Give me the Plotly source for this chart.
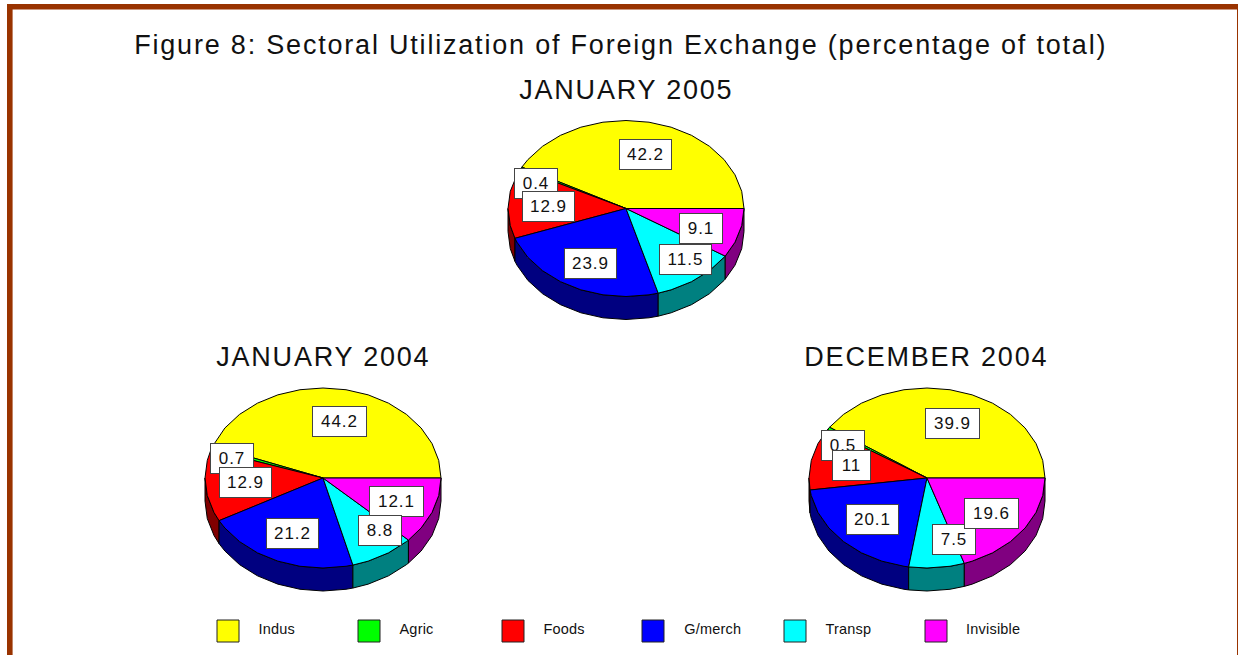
import math
import plotly.graph_objects as go

# ---- data ----
SECTORS = ["Indus", "Agric", "Foods", "G/merch", "Transp", "Invisible"]
JAN_2005 = [42.2, 0.4, 12.9, 23.9, 11.5, 9.1]
JAN_2004 = [44.2, 0.7, 12.9, 21.2, 8.8, 12.1]
DEC_2004 = [39.9, 0.5, 11, 20.1, 7.5, 19.6]
TITLE = "Figure 8: Sectoral Utilization of Foreign Exchange (percentage of total)"
PANEL_TITLES = ["JANUARY 2005", "JANUARY 2004", "DECEMBER 2004"]

# ---- styles / layout ----
TOP = ["#ffff00", "#00ff00", "#ff0000", "#0000ff", "#00ffff", "#ff00ff"]
SIDE = ["#808000", "#008000", "#800000", "#000080", "#008080", "#800080"]
BROWN = "#993300"
FONT = "Liberation Sans, Arial, sans-serif"
RX, DEPTH = 118, 23
PANELS = [
    dict(vals=JAN_2005, cx=626, cy=208.5, ry=88, title=(626, 90),
         boxes=[(645.8, 154.3, 53), (535.7, 183, 44), (548.7, 206.7, 53),
                (590, 263.3, 53), (685, 259, 53), (701.3, 228.7, 44)],
         order=[0, 1, 2, 3, 5, 4]),
    dict(vals=JAN_2004, cx=323, cy=478, ry=90, title=(323, 357),
         boxes=[(339.2, 421, 55), (231.7, 458.3, 44), (245.7, 482.5, 53),
                (292, 533.3, 53), (379.7, 530.8, 44), (396.7, 501.3, 55)],
         order=[0, 1, 2, 3, 5, 4]),
    dict(vals=DEC_2004, cx=927, cy=478, ry=90, title=(926, 357),
         boxes=[(952.2, 423.7, 55), (842.5, 445, 44), (851.3, 465, 39),
                (872.5, 519.3, 53), (953.7, 539, 44), (991.7, 513, 55)],
         order=[0, 1, 2, 3, 4, 5]),
]
LEGEND_X = [228, 369, 513, 653, 795, 936]
LEGEND_TEXT_X = [257, 398, 542, 683, 824, 965]
LEGEND_Y = 631


def arc(a, b, step=11.25):
    pts = [a]
    k = math.floor(a / step) + 1
    while k * step < b - 0.5:
        pts.append(k * step)
        k += 1
    pts.append(b)
    return pts


fig = go.Figure()
annotations = []


def label(x, y, text, size, **kw):
    annotations.append(dict(x=x, y=y, xref="x", yref="y", text=text, showarrow=False,
                            font=dict(family=FONT, size=size, color="#111111"), **kw))


for p in PANELS:
    total = sum(p["vals"])
    cx, cy, ry = p["cx"], p["cy"], p["ry"]
    px = lambda d: cx + RX * math.cos(math.radians(d))
    py = lambda d: cy - ry * math.sin(math.radians(d))

    spans, start = [], 0.0
    for v in p["vals"]:
        end = start + v / total * 360
        spans.append((start, end))
        start = end

    # outer walls (only the part of each slice on the near side)
    for i, (a, b) in enumerate(spans):
        lo, hi = max(a, 180), min(b, 360)
        if hi <= lo:
            continue
        ang = arc(lo, hi)
        xs = [px(d) for d in ang] + [px(d) for d in reversed(ang)] + [px(ang[0])]
        ys = [py(d) for d in ang] + [py(d) + DEPTH for d in reversed(ang)] + [py(ang[0])]
        fig.add_trace(go.Scatter(x=xs, y=ys, mode="lines", fill="toself", fillcolor=SIDE[i],
                                 line=dict(color="#000000", width=1), hoverinfo="skip",
                                 showlegend=False))
    # top faces
    for i, (a, b) in enumerate(spans):
        ang = arc(a, b)
        xs = [cx] + [px(d) for d in ang] + [cx]
        ys = [cy] + [py(d) for d in ang] + [cy]
        fig.add_trace(go.Scatter(x=xs, y=ys, mode="lines", fill="toself", fillcolor=TOP[i],
                                 line=dict(color="#000000", width=1), name=SECTORS[i],
                                 hoveron="fills", text=f"{SECTORS[i]}: {p['vals'][i]}",
                                 hoverinfo="text", showlegend=False))
    # value boxes
    for i in p["order"]:
        bx, by, w = p["boxes"][i]
        label(bx, by, str(p["vals"][i]), 17, width=w - 2, height=29, bgcolor="#ffffff",
              bordercolor="#444444", borderwidth=1, borderpad=0)

# titles
label(620.5, 45, TITLE, 27)
for p, t in zip(PANELS, PANEL_TITLES):
    label(p["title"][0], p["title"][1], t, 27)

# legend
for name, color, x, tx in zip(SECTORS, TOP, LEGEND_X, LEGEND_TEXT_X):
    fig.add_trace(go.Scatter(x=[x], y=[LEGEND_Y], mode="markers", hoverinfo="skip", showlegend=False,
                             marker=dict(symbol="square", size=22, color=color,
                                         line=dict(color="#222222", width=1))))
    label(tx, LEGEND_Y - 2, name, 14.5, xanchor="left")

shapes = [
    dict(type="rect", x0=7, x1=1238, y0=4, y1=9.6, fillcolor=BROWN, line_width=0, layer="below"),
    dict(type="rect", x0=7, x1=12.6, y0=4, y1=655, fillcolor=BROWN, line_width=0, layer="below"),
    dict(type="rect", x0=1237, x1=1238, y0=4, y1=655, fillcolor=BROWN, line_width=0, layer="below"),
]

fig.update_layout(
    width=1238, height=655, margin=dict(l=0, r=0, t=0, b=0),
    paper_bgcolor="#ffffff", plot_bgcolor="#ffffff", showlegend=False,
    xaxis=dict(range=[0, 1238], visible=False, fixedrange=True),
    yaxis=dict(range=[655, 0], visible=False, fixedrange=True),
    annotations=annotations, shapes=shapes,
)

POST = """
document.body.style.margin = '0';
function spaceText() {
  document.querySelectorAll('.annotation-text').forEach(function (t) {
    var s = parseFloat(t.style.fontSize) || 0;
    t.style.letterSpacing = (s > 20 ? '1.8px' : (s > 16 ? '1px' : '0.2px'));
  });
}
spaceText();
setTimeout(spaceText, 50);
"""
fig.write_html("out.html", post_script=POST, config=dict(displayModeBar=False))
